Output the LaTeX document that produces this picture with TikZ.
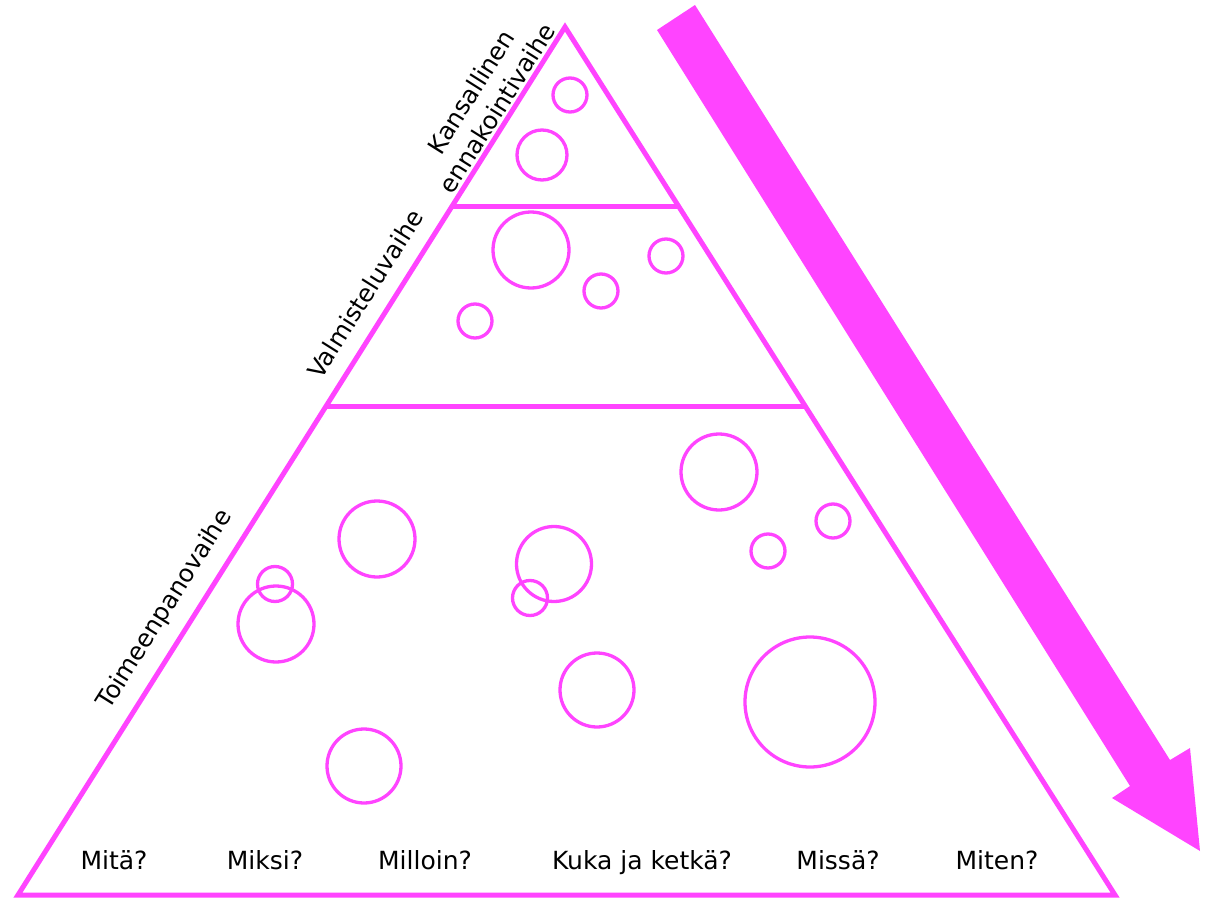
\documentclass[tikz,border=0pt]{standalone}
\usepackage{fontspec}
\setmainfont{DejaVu Sans}
\definecolor{mag}{RGB}{255,68,255}
\begin{document}
\begin{tikzpicture}[x=1pt,y=-1pt,
  edge/.style={draw=mag,line width=5pt,line join=miter},
  bub/.style={draw=mag,line width=3.3pt},
  lbl/.style={font=\fontsize{25}{30}\selectfont,text=black,inner sep=0pt},
  side/.style={font=\fontsize{24.5}{31}\selectfont,text=black,inner sep=0pt,rotate=57.8,anchor=center,align=center}]
\path[use as bounding box] (0,0) rectangle (1211,899);
% pyramid
\coordinate (apex) at (565,27);
\coordinate (bl) at (18,895);
\coordinate (br) at (1115,895);
\draw[edge] (apex) -- (br) -- (bl) -- cycle;
\coordinate (l1) at (452,206);
\coordinate (r1) at (678,206);
\coordinate (l2) at (326,406);
\coordinate (r2) at (805,406);
\draw[edge] (l1) -- (r1);
\draw[edge] (l2) -- (r2);
% arrow
\fill[mag] (657,30) -- (695,5) -- (1170,760) -- (1190,748) -- (1200,851) -- (1112,798) -- (1130,786) -- cycle;
% bubbles
\foreach \x/\y/\r in {570/95/17, 542/155/25, 531/250/38, 666/256/17, 601/291/17, 475/321/17,
  719/472/38, 833/521/17, 768/551/17, 377/539/38, 554/564/37.5, 530/598/17.5,
  275/584/17.5, 276/624/38, 597/690/37, 810/702/65, 364/766/37}
  \draw[bub] (\x,\y) circle[radius=\r];
% side labels
\node[side] (t1) at (484,100) {Kansallinen\\ennakointivaihe};
\node[side] (t2) at (365,294) {Valmisteluvaihe};
\node[side] (t3) at (165,610) {Toimeenpanovaihe};
% bottom questions
\node[lbl,anchor=base] (q1) at (114,869) {Mitä?};
\node[lbl,anchor=base] (q2) at (265,869) {Miksi?};
\node[lbl,anchor=base] (q3) at (425,869) {Milloin?};
\node[lbl,anchor=base] (q4) at (642,869) {Kuka ja ketkä?};
\node[lbl,anchor=base] (q5) at (838,869) {Missä?};
\node[lbl,anchor=base] (q6) at (997,869) {Miten?};
\end{tikzpicture}
\end{document}
